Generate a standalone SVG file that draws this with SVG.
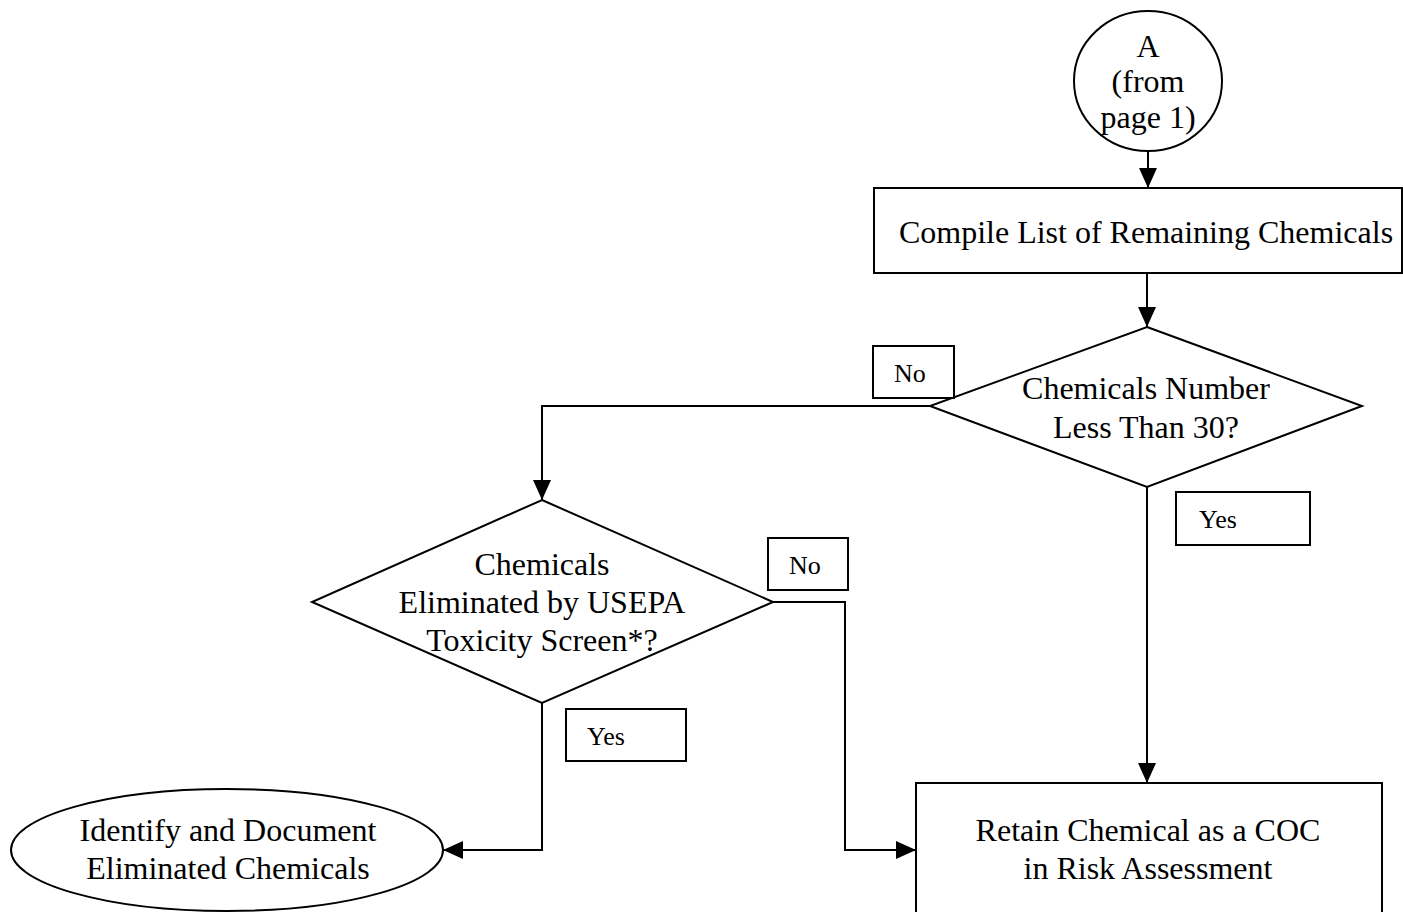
<svg xmlns="http://www.w3.org/2000/svg" width="1403" height="912" viewBox="0 0 1403 912">
<style>
.s{fill:#fff;stroke:#000;stroke-width:2}
.t{font-family:"Liberation Serif","Times New Roman",serif;font-size:32px;fill:#000;text-anchor:middle}
.l{font-family:"Liberation Serif","Times New Roman",serif;font-size:26px;fill:#000}
.c{fill:none;stroke:#000;stroke-width:2}
</style>
<defs>
<marker id="ah" markerUnits="userSpaceOnUse" markerWidth="22" markerHeight="20" refX="20" refY="9" orient="auto">
<path d="M0,0 L20,9 L0,18 Z" fill="#000"/>
</marker>
</defs>
<rect width="1403" height="912" fill="#fff"/>
<g id="connectors">
<line class="c" x1="1148" y1="150" x2="1148" y2="188" marker-end="url(#ah)"/>
<line class="c" x1="1147" y1="273" x2="1147" y2="327" marker-end="url(#ah)"/>
<polyline class="c" points="930,406 542,406 542,500" marker-end="url(#ah)"/>
<line class="c" x1="1147" y1="487" x2="1147" y2="783" marker-end="url(#ah)"/>
<polyline class="c" points="773,602 845,602 845,850 916,850" marker-end="url(#ah)"/>
<polyline class="c" points="542,703 542,850 443,850" marker-end="url(#ah)"/>
</g>
<g id="nodeA">
<ellipse class="s" cx="1148" cy="81" rx="74" ry="70"/>
<text class="t" x="1148" y="57">A</text>
<text class="t" x="1148" y="92">(from</text>
<text class="t" x="1148" y="128">page 1)</text>
</g>
<g id="compile">
<rect class="s" x="874" y="188" width="528" height="85"/>
<text class="t" x="1146" y="243">Compile List of Remaining Chemicals</text>
</g>
<g id="decision1">
<polygon class="s" points="1147,327 1362,406 1147,487 930,406"/>
<text class="t" x="1146" y="399">Chemicals Number</text>
<text class="t" x="1146" y="438">Less Than 30?</text>
</g>
<g id="label-no1">
<rect class="s" x="873" y="346" width="81" height="52"/>
<text class="l" x="894" y="382">No</text>
</g>
<g id="label-yes1">
<rect class="s" x="1176" y="492" width="134" height="53"/>
<text class="l" x="1199" y="528">Yes</text>
</g>
<g id="decision2">
<polygon class="s" points="542,500 773,602 542,703 312,602"/>
<text class="t" x="542" y="575">Chemicals</text>
<text class="t" x="542" y="613">Eliminated by USEPA</text>
<text class="t" x="542" y="651">Toxicity Screen*?</text>
</g>
<g id="label-no2">
<rect class="s" x="768" y="538" width="80" height="52"/>
<text class="l" x="789" y="574">No</text>
</g>
<g id="label-yes2">
<rect class="s" x="566" y="709" width="120" height="52"/>
<text class="l" x="587" y="745">Yes</text>
</g>
<g id="identify">
<ellipse class="s" cx="227" cy="850" rx="216" ry="61"/>
<text class="t" x="228" y="841">Identify and Document</text>
<text class="t" x="228" y="879">Eliminated Chemicals</text>
</g>
<g id="retain">
<rect class="s" x="916" y="783" width="466" height="140"/>
<text class="t" x="1148" y="841">Retain Chemical as a COC</text>
<text class="t" x="1148" y="879">in Risk Assessment</text>
</g>
</svg>
